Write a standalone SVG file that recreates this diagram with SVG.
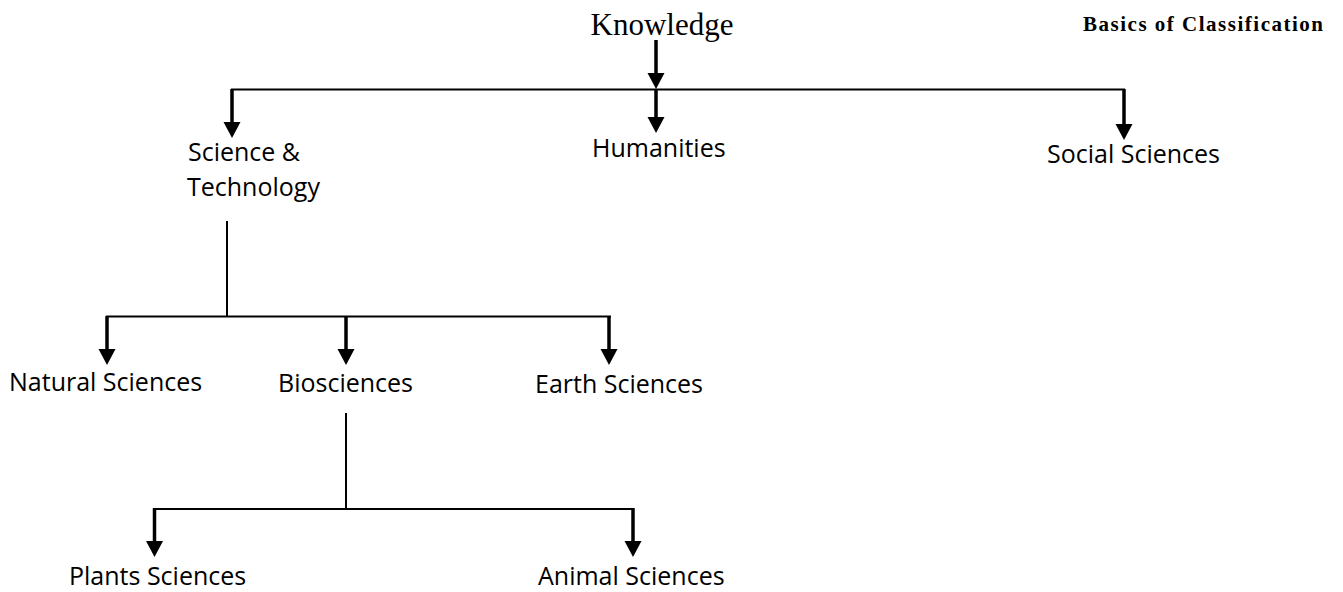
<svg xmlns="http://www.w3.org/2000/svg" width="1343" height="592" viewBox="0 0 1343 592">
  <style>
    .lbl { font-family: "Open Sans", "Liberation Sans", sans-serif; font-size: 25px; fill: #000; }
    .serif { font-family: "Liberation Serif", "Times New Roman", serif; fill: #000; }
    .line { stroke: #000; stroke-width: 2; fill: none; }
    .arrow { stroke: #000; stroke-width: 3.5; fill: none; marker-end: url(#head); }
  </style>
  <defs>
    <marker id="head" markerUnits="userSpaceOnUse" markerWidth="17" markerHeight="18" refX="0" refY="8.5" orient="auto" viewBox="0 0 17 18" overflow="visible">
      <path d="M0,0 L16,8.5 L0,17 Z" fill="#000"/>
    </marker>
  </defs>
  <rect width="1343" height="592" fill="#fff"/>

  <g id="connectors">
    <line class="arrow" x1="656" y1="40" x2="656" y2="73"/>
    <line class="line" x1="231" y1="89.5" x2="1125" y2="89.5"/>
    <line class="arrow" x1="232" y1="89" x2="232" y2="122"/>
    <line class="arrow" x1="656" y1="89" x2="656" y2="117"/>
    <line class="arrow" x1="1124" y1="89" x2="1124" y2="124"/>

    <line class="line" x1="227" y1="221" x2="227" y2="316.5"/>
    <line class="line" x1="106" y1="316.5" x2="611" y2="316.5"/>
    <line class="arrow" x1="107" y1="316" x2="107" y2="349"/>
    <line class="arrow" x1="346" y1="316" x2="346" y2="349"/>
    <line class="arrow" x1="609" y1="316" x2="609" y2="349"/>

    <line class="line" x1="346" y1="413" x2="346" y2="509"/>
    <line class="line" x1="154" y1="509" x2="634" y2="509"/>
    <line class="arrow" x1="154.5" y1="508" x2="154.5" y2="541"/>
    <line class="arrow" x1="633" y1="508" x2="633" y2="541"/>
  </g>

  <g id="title">
    <text class="serif" x="1083" y="31" font-size="21" font-weight="bold" textLength="240" lengthAdjust="spacing">Basics of Classification</text>
  </g>
  <g id="knowledge">
    <text class="serif" x="662" y="35" font-size="31" text-anchor="middle">Knowledge</text>
  </g>
  <g id="science-technology">
    <text class="lbl" x="188" y="161">Science &amp;</text>
    <text class="lbl" x="187" y="196">Technology</text>
  </g>
  <g id="humanities">
    <text class="lbl" x="592" y="157">Humanities</text>
  </g>
  <g id="social-sciences">
    <text class="lbl" x="1047" y="163">Social Sciences</text>
  </g>
  <g id="natural-sciences">
    <text class="lbl" x="9" y="391">Natural Sciences</text>
  </g>
  <g id="biosciences">
    <text class="lbl" x="278" y="392">Biosciences</text>
  </g>
  <g id="earth-sciences">
    <text class="lbl" x="535" y="393">Earth Sciences</text>
  </g>
  <g id="plants-sciences">
    <text class="lbl" x="69" y="585">Plants Sciences</text>
  </g>
  <g id="animal-sciences">
    <text class="lbl" x="538" y="585">Animal Sciences</text>
  </g>
</svg>
